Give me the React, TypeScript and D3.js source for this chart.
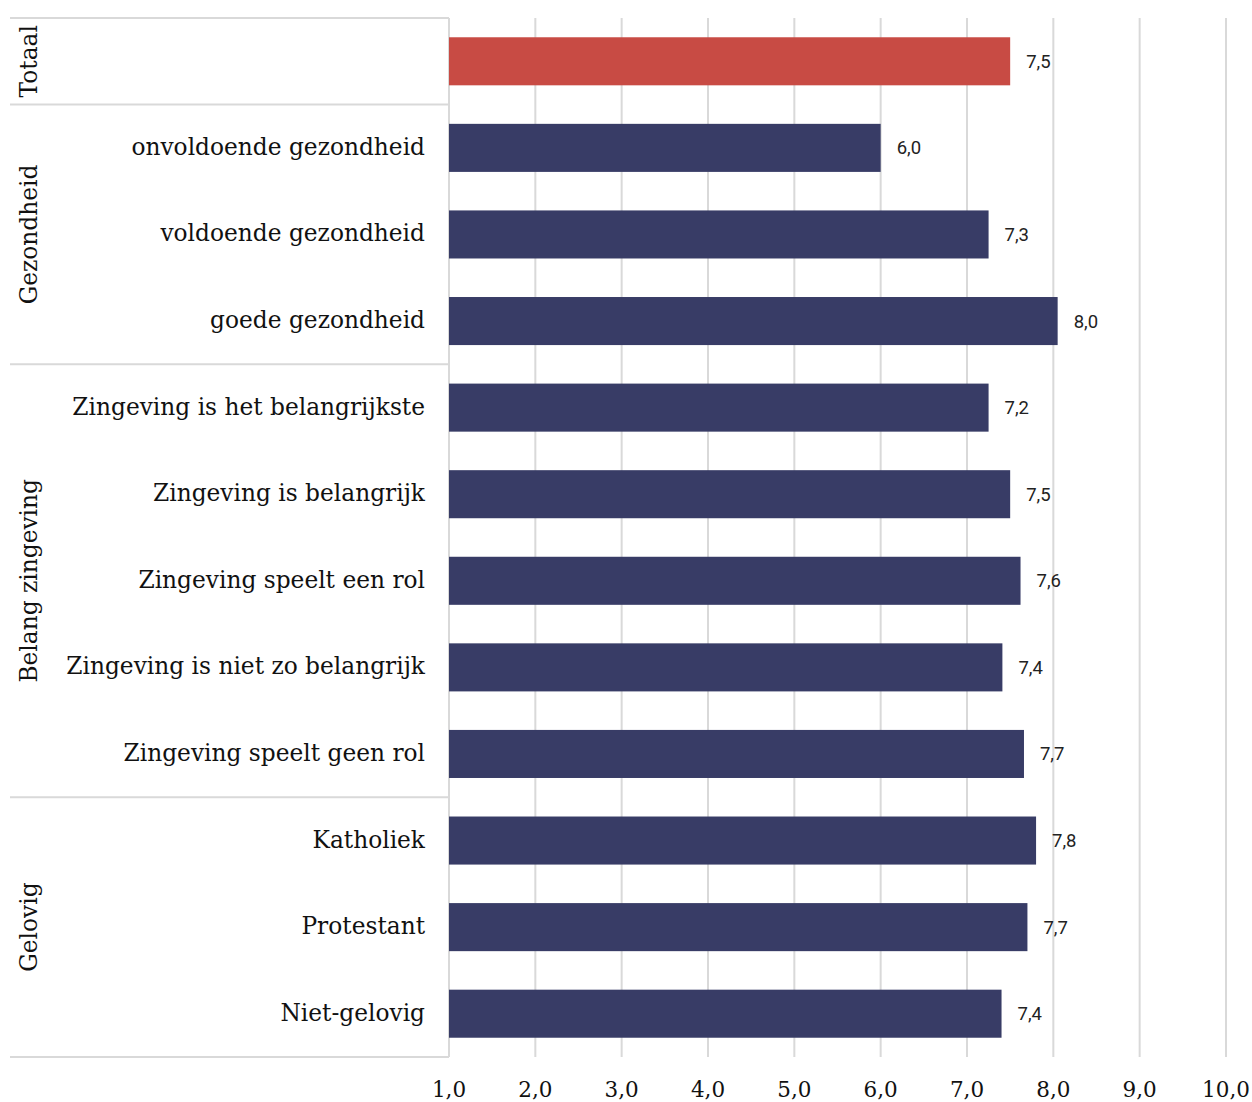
import React from "react";
import * as d3 from "d3";

const categories = [
  "Totaal",
  "onvoldoende gezondheid",
  "voldoende gezondheid",
  "goede gezondheid",
  "Zingeving is het belangrijkste",
  "Zingeving is belangrijk",
  "Zingeving speelt een rol",
  "Zingeving is niet zo belangrijk",
  "Zingeving speelt geen rol",
  "Katholiek",
  "Protestant",
  "Niet-gelovig",
];
const showLabel = [false, true, true, true, true, true, true, true, true, true, true, true];
const values = [7.5, 6.0, 7.25, 8.05, 7.25, 7.5, 7.62, 7.41, 7.66, 7.8, 7.7, 7.4];
const valueLabels = ["7,5", "6,0", "7,3", "8,0", "7,2", "7,5", "7,6", "7,4", "7,7", "7,8", "7,7", "7,4"];
const groups = [
  { name: "Totaal", start: 0, end: 0 },
  { name: "Gezondheid", start: 1, end: 3 },
  { name: "Belang zingeving", start: 4, end: 8 },
  { name: "Gelovig", start: 9, end: 11 },
];
const ticks = [1, 2, 3, 4, 5, 6, 7, 8, 9, 10];

export default function App() {
  const W = 1252, H = 1102;
  const left = 449, right = 1226, top = 18, bottom = 1057;
  const x = d3.scaleLinear().domain([1, 10]).range([left, right]);
  const y = d3.scaleBand<number>().domain(d3.range(categories.length)).range([top, bottom]).paddingInner(0.445).paddingOuter(0.2225);
  const step = y.step();
  const rowTop = (i: number) => top + i * step;
  const serif = "'DejaVu Serif', serif";
  return (
    <svg width={W} height={H} style={{ position: "absolute", left: 0, top: 0, background: "#fff" }}>
      {ticks.map((t) => (
        <line key={"g" + t} x1={x(t)} x2={x(t)} y1={top} y2={bottom} stroke="#d9d9d9" strokeWidth={2} />
      ))}
      <line x1={10} x2={left} y1={top} y2={top} stroke="#d9d9d9" strokeWidth={2} />
      {groups.map((g) => (
        <line key={"s" + g.name} x1={10} x2={left} y1={rowTop(g.end + 1)} y2={rowTop(g.end + 1)} stroke="#d9d9d9" strokeWidth={2} />
      ))}
      {values.map((v, i) => (
        <rect key={"b" + i} x={x(1)} y={y(i)!} width={x(v) - x(1)} height={y.bandwidth()} fill={i === 0 ? "#c84b44" : "#383c66"} />
      ))}
      {values.map((v, i) => (
        <text key={"v" + i} x={x(v) + 16} y={y(i)! + y.bandwidth() / 2} dy="0.35em" fontFamily="Roboto, sans-serif" fontSize={18.5} fill="#222">
          {valueLabels[i]}
        </text>
      ))}
      {categories.map((c, i) =>
        showLabel[i] ? (
          <text key={"c" + i} x={425} y={y(i)! + y.bandwidth() / 2} dy="0.3em" textAnchor="end" fontFamily={serif} fontSize={23.3} fill="#111">
            {c}
          </text>
        ) : null
      )}
      {groups.map((g) => {
        const cy = (rowTop(g.start) + rowTop(g.end + 1)) / 2;
        return (
          <text key={"t" + g.name} transform={`translate(37,${cy}) rotate(-90)`} textAnchor="middle" fontFamily={serif} fontSize={23.3} fill="#111">
            {g.name}
          </text>
        );
      })}
      {ticks.map((t) => (
        <text key={"tl" + t} x={x(t)} y={1097} textAnchor="middle" fontFamily={serif} fontSize={21.5} fill="#111">
          {d3.format(".1f")(t).replace(".", ",")}
        </text>
      ))}
    </svg>
  );
}
